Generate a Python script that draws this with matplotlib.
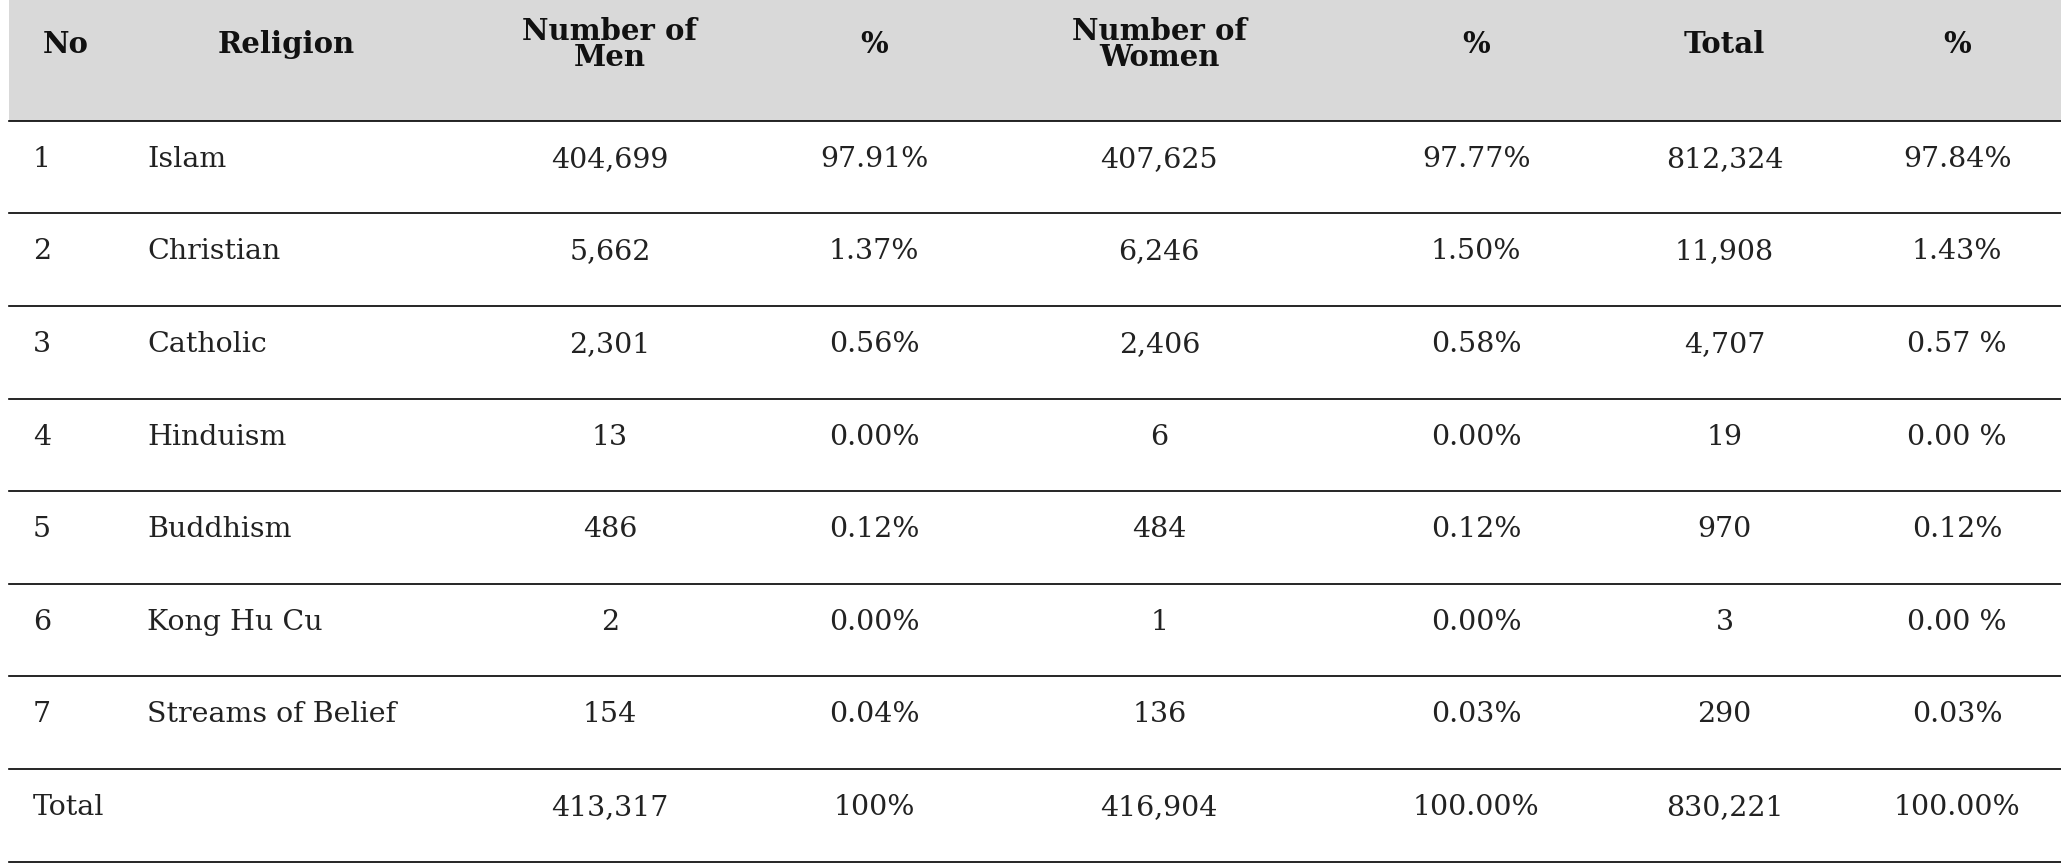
import matplotlib
matplotlib.use("Agg")
import matplotlib.pyplot as plt
from matplotlib.patches import Rectangle

headers = ["No", "Religion", "Number of\nMen", "%", "Number of\nWomen", "%", "Total", "%"]
numbers = ["1", "2", "3", "4", "5", "6", "7", "Total"]
religions = ["Islam", "Christian", "Catholic", "Hinduism", "Buddhism", "Kong Hu Cu", "Streams of Belief", ""]
men = ["404,699", "5,662", "2,301", "13", "486", "2", "154", "413,317"]
men_pct = ["97.91%", "1.37%", "0.56%", "0.00%", "0.12%", "0.00%", "0.04%", "100%"]
women = ["407,625", "6,246", "2,406", "6", "484", "1", "136", "416,904"]
women_pct = ["97.77%", "1.50%", "0.58%", "0.00%", "0.12%", "0.00%", "0.03%", "100.00%"]
total = ["812,324", "11,908", "4,707", "19", "970", "3", "290", "830,221"]
total_pct = ["97.84%", "1.43%", "0.57 %", "0.00 %", "0.12%", "0.00 %", "0.03%", "100.00%"]

W, H = 1568, 657
fig = plt.figure(figsize=(20.61, 8.63), dpi=100)
ax = fig.add_axes([0, 0, 1, 1])
ax.set_xlim(0, W)
ax.set_ylim(H, 0)
ax.axis("off")

font = "DejaVu Serif"
ax.add_patch(Rectangle((7, 0), W - 7, 92, color="#d9d9d9", lw=0))
ax.plot([7, W], [92, 92], color="black", lw=1.2)

hx = [50, 218, 464, 665, 882, 1123, 1312, 1489]
for x, h in zip(hx, headers):
    ax.text(x, 34, h, ha="center", va="center", fontsize=21, fontweight="bold",
            family=font, linespacing=0.85, color="#111")

top = 92
rh = 70.5
cols = [men, men_pct, women, women_pct, total, total_pct]
cx = [464, 665, 882, 1123, 1312, 1489]
for i in range(len(numbers)):
    yc = top + rh * i + rh / 2 - 6
    ax.text(25, yc, numbers[i], ha="left", va="center", fontsize=20.5, family=font, color="#222")
    ax.text(112, yc, religions[i], ha="left", va="center", fontsize=20.5, family=font, color="#222")
    for x, c in zip(cx, cols):
        ax.text(x, yc, c[i], ha="center", va="center", fontsize=20.5, family=font, color="#222")
    yl = top + rh * (i + 1)
    ax.plot([7, W], [yl, yl], color="black", lw=1.2)

fig.savefig("out.png", dpi=100)
